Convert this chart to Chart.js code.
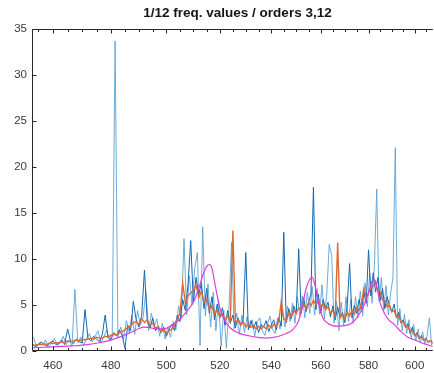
<!DOCTYPE html>
<html>
<head>
<meta charset="utf-8">
<script src="https://cdn.jsdelivr.net/npm/chart.js@4.4.0/dist/chart.umd.min.js"></script>
<style>
  html, body { margin: 0; padding: 0; background: #fff; }
  #wrap { position: relative; width: 434px; height: 373px; }
  #title {
    position: absolute; top: 5px; left: 32px; width: 411px;
    text-align: center; line-height: 15px;
    font: bold 13.5px "Liberation Sans", Arial, sans-serif; color: #141414;
  }
</style>
</head>
<body>
<div id="wrap">
  <div id="title">1/12 freq. values / orders 3,12</div>
  <canvas id="plot" width="434" height="373"></canvas>
</div>
<script>
// frequency bins (raw spectra are sampled half a bin apart)
const freqs = [
  453, 454, 455, 456, 457, 458, 459, 460, 461, 462,
  463, 464, 465, 466, 467, 468, 469, 470, 471, 472,
  473, 474, 475, 476, 477, 478, 479, 480, 481, 482,
  483, 484, 485, 486, 487, 488, 489, 490, 491, 492,
  493, 494, 495, 496, 497, 498, 499, 500, 501, 502,
  503, 504, 505, 506, 507, 508, 509, 510, 511, 512,
  513, 514, 515, 516, 517, 518, 519, 520, 521, 522,
  523, 524, 525, 526, 527, 528, 529, 530, 531, 532,
  533, 534, 535, 536, 537, 538, 539, 540, 541, 542,
  543, 544, 545, 546, 547, 548, 549, 550, 551, 552,
  553, 554, 555, 556, 557, 558, 559, 560, 561, 562,
  563, 564, 565, 566, 567, 568, 569, 570, 571, 572,
  573, 574, 575, 576, 577, 578, 579, 580, 581, 582,
  583, 584, 585, 586, 587, 588, 589, 590, 591, 592,
  593, 594, 595, 596, 597, 598, 599, 600, 601, 602,
  603, 604, 605, 606, 607, 608
];
const freqsHalf = [
  453.5, 454.5, 455.5, 456.5, 457.5, 458.5, 459.5, 460.5, 461.5, 462.5,
  463.5, 464.5, 465.5, 466.5, 467.5, 468.5, 469.5, 470.5, 471.5, 472.5,
  473.5, 474.5, 475.5, 476.5, 477.5, 478.5, 479.5, 480.5, 481.5, 482.5,
  483.5, 484.5, 485.5, 486.5, 487.5, 488.5, 489.5, 490.5, 491.5, 492.5,
  493.5, 494.5, 495.5, 496.5, 497.5, 498.5, 499.5, 500.5, 501.5, 502.5,
  503.5, 504.5, 505.5, 506.5, 507.5, 508.5, 509.5, 510.5, 511.5, 512.5,
  513.5, 514.5, 515.5, 516.5, 517.5, 518.5, 519.5, 520.5, 521.5, 522.5,
  523.5, 524.5, 525.5, 526.5, 527.5, 528.5, 529.5, 530.5, 531.5, 532.5,
  533.5, 534.5, 535.5, 536.5, 537.5, 538.5, 539.5, 540.5, 541.5, 542.5,
  543.5, 544.5, 545.5, 546.5, 547.5, 548.5, 549.5, 550.5, 551.5, 552.5,
  553.5, 554.5, 555.5, 556.5, 557.5, 558.5, 559.5, 560.5, 561.5, 562.5,
  563.5, 564.5, 565.5, 566.5, 567.5, 568.5, 569.5, 570.5, 571.5, 572.5,
  573.5, 574.5, 575.5, 576.5, 577.5, 578.5, 579.5, 580.5, 581.5, 582.5,
  583.5, 584.5, 585.5, 586.5, 587.5, 588.5, 589.5, 590.5, 591.5, 592.5,
  593.5, 594.5, 595.5, 596.5, 597.5, 598.5, 599.5, 600.5, 601.5, 602.5,
  603.5, 604.5, 605.5, 606.5, 607.5
];

// order 3 spectrum (light blue), on freqsHalf
const order3 = [
  1.5, 0.5, 0.9, 0.6, 1.2, 0.4, 0.8, 1.4, 0.6, 0.9,
  1.6, 0.7, 1.2, 0.5, 6.7, 0.9, 1.5, 0.6, 1.3, 1.9,
  1.0, 1.6, 2.2, 0.9, 1.5, 2.3, 1.2, 1.9, 33.7, 1.4,
  2.6, 1.3, 3.3, 2.0, 3.9, 1.8, 4.4, 2.8, 3.6, 6.5,
  2.2, 4.1, 2.6, 3.5, 1.6, 3.0, 1.3, 2.6, 1.5, 3.2,
  2.3, 4.9, 3.5, 12.2, 3.9, 8.2, 5.0, 9.0, 10.7, 0.6,
  13.5, 3.8, 7.3, 2.6, 6.4, 2.2, 5.6, 0.5, 4.4, 0.3,
  4.6, 11.8, 2.4, 4.1, 1.8, 3.9, 2.0, 3.7, 2.5, 3.4,
  1.6, 3.2, 3.6, 2.2, 1.7, 2.9, 3.8, 2.4, 1.9, 3.6,
  2.4, 4.2, 2.6, 4.9, 3.2, 5.2, 3.0, 5.9, 3.8, 6.0,
  3.6, 6.4, 4.1, 7.0, 3.9, 6.8, 4.0, 7.2, 3.5, 6.3,
  11.6, 10.4, 3.0, 5.4, 2.2, 5.3, 2.8, 5.9, 3.2, 5.6,
  3.0, 5.9, 3.6, 6.5, 3.8, 7.4, 4.8, 8.5, 5.2, 9.3,
  17.6, 5.4, 8.0, 4.4, 7.1, 3.9, 6.3, 8.0, 22.1, 2.8,
  4.6, 2.2, 4.0, 1.9, 3.4, 1.3, 2.9, 1.1, 2.4, 0.9,
  2.1, 0.8, 1.7, 3.6, 0.6
];

// order 12 spectrum (dark blue), on freqs
const order12 = [
  0.8, 0.5, 0.6, 1.0, 0.7, 0.5, 0.9, 1.1, 0.7, 0.8,
  1.2, 0.7, 2.4, 1.1, 0.8, 1.3, 1.0, 0.9, 4.5, 1.4,
  1.1, 1.6, 1.3, 1.0, 1.8, 3.9, 1.5, 1.2, 2.0, 1.7,
  2.3, 1.7, 0.3, 2.8, 2.2, 5.4, 3.4, 2.6, 3.9, 8.8,
  3.3, 2.5, 3.6, 2.2, 2.7, 2.0, 2.6, 1.6, 2.4, 2.9,
  2.2, 3.9, 3.2, 5.6, 4.4, 7.3, 12.0, 5.3, 8.0, 6.1,
  7.4, 4.6, 6.8, 4.1, 5.9, 3.4, 5.1, 3.6, 4.7, 2.8,
  4.4, 3.0, 3.9, 2.5, 3.6, 2.8, 3.4, 10.7, 2.3, 3.3,
  2.4, 3.2, 2.0, 2.9, 2.6, 3.3, 2.1, 2.8, 3.4, 2.3,
  3.6, 2.7, 12.9, 3.1, 4.6, 3.5, 4.9, 4.0, 11.1, 4.1,
  5.8, 4.3, 5.2, 6.3, 17.8, 4.5, 6.2, 4.1, 5.6, 4.6,
  5.3, 3.7, 4.9, 3.4, 4.8, 3.6, 4.2, 3.1, 5.0, 9.5,
  3.6, 5.0, 4.1, 5.6, 4.3, 6.5, 5.2, 11.0, 6.0, 8.5,
  6.4, 8.0, 5.5, 6.8, 4.6, 5.9, 4.9, 4.2, 5.1, 3.6,
  4.2, 3.1, 3.4, 2.5, 3.0, 1.9, 2.6, 1.6, 2.0, 1.3,
  1.7, 1.1, 1.4, 0.9, 1.2, 0.8
];

// 1/12 band average (orange), on freqs
const bandAvg = [
  0.7, 0.6, 0.7, 0.7, 0.8, 0.7, 0.9, 0.8, 0.9, 0.9,
  1.0, 0.9, 1.1, 1.0, 1.1, 1.2, 1.1, 1.3, 1.2, 1.3,
  1.4, 1.3, 1.5, 1.4, 1.4, 1.6, 1.5, 1.7, 1.8, 1.7,
  2.0, 2.1, 2.3, 2.6, 2.7, 3.1, 3.2, 2.9, 3.5, 3.1,
  3.4, 2.8, 3.0, 2.5, 2.6, 2.1, 2.3, 1.9, 2.2, 2.4,
  2.9, 3.5, 4.1, 7.4, 5.2, 6.0, 6.3, 6.6, 7.2, 5.8,
  6.5, 5.3, 5.6, 4.5, 4.9, 4.0, 4.5, 3.7, 4.0, 3.4,
  3.8, 3.2, 13.1, 3.0, 3.4, 2.8, 3.2, 2.6, 3.0, 2.6,
  2.8, 2.4, 2.7, 2.4, 2.7, 2.4, 2.8, 2.5, 2.9, 2.7,
  3.2, 5.4, 3.5, 3.3, 4.1, 3.7, 4.4, 4.1, 4.7, 4.4,
  5.1, 4.6, 5.3, 4.9, 5.5, 5.0, 5.4, 4.8, 5.2, 4.5,
  4.8, 4.1, 4.4, 3.8, 11.8, 3.6, 4.0, 3.5, 4.2, 3.8,
  4.4, 4.0, 4.7, 4.4, 5.2, 6.8, 5.8, 6.3, 6.8, 7.1,
  7.4, 6.4, 6.4, 5.5, 5.5, 4.8, 5.0, 4.3, 4.4, 3.7,
  3.8, 3.1, 3.2, 2.6, 2.7, 2.1, 2.2, 1.7, 1.8, 1.4,
  1.5, 1.2, 1.3, 1.0, 1.1, 0.9
];

// fitted resonance curve (magenta)
const fitFreqs = [
  453, 460, 466, 472, 476, 479, 482, 485, 488, 490,
  492, 494, 496, 499, 502, 504, 506, 508, 510, 512,
  513.5, 515, 516, 517, 518, 519, 520, 521.7, 524, 527,
  532, 538, 543, 546, 548.5, 551, 552.6, 554, 555.5, 556.5,
  557.5, 558.9, 560.7, 563, 567, 570, 572.6, 575, 577.8, 580,
  581, 582, 583, 584, 585, 587, 589, 591, 594, 597,
  600, 604, 608
];
const fitValues = [
  0.35, 0.45, 0.55, 0.7, 0.9, 1.1, 1.4, 1.75, 2.15, 2.45,
  2.6, 2.55, 2.4, 2.4, 2.8, 3.2, 3.8, 4.5, 5.3, 6.8,
  8.2, 9.2, 9.4, 9.0, 7.5, 6.0, 4.7, 3.4, 2.5, 2.0,
  1.6, 1.4, 1.6, 1.9, 2.3, 3.3, 5.0, 6.8, 7.8, 8.0,
  7.3, 5.5, 3.7, 3.0, 2.7, 2.75, 3.0, 3.6, 4.8, 6.3,
  7.2, 7.8, 7.6, 6.4, 5.2, 4.0, 3.3, 2.9, 2.1, 1.5,
  1.2, 0.8, 0.5
];

const xTicks = [455, 460, 465, 470, 475, 480, 485, 490, 495, 500, 505, 510, 515, 520,
  525, 530, 535, 540, 545, 550, 555, 560, 565, 570, 575, 580, 585, 590, 595, 600, 605];
const xLabels = [460, 480, 500, 520, 540, 560, 580, 600];

const pts = (xs, ys) => xs.map((x, i) => ({ x: x, y: ys[i] }));

const axisFont = { family: '"Liberation Sans", Arial, sans-serif', size: 11.5 };

// matlab-like box: left/top/bottom lines with inward ticks
const axesBox = {
  id: 'axesBox',
  afterDatasetsDraw(chart) {
    const { ctx, chartArea: a, scales } = chart;
    const x = scales.x, y = scales.y;
    const left = Math.round(a.left) + 0.5;
    const top = Math.round(a.top) + 0.5;
    const bottom = Math.round(a.bottom) - 0.5;
    ctx.save();
    ctx.strokeStyle = '#262626';
    ctx.lineWidth = 1;
    ctx.beginPath();
    ctx.moveTo(a.right, top);
    ctx.lineTo(left, top);
    ctx.lineTo(left, bottom);
    ctx.lineTo(a.right, bottom);
    x.ticks.forEach(t => {
      const px = Math.round(x.getPixelForValue(t.value)) + 0.5;
      const len = xLabels.includes(t.value) ? 4 : 2.5;
      ctx.moveTo(px, bottom);
      ctx.lineTo(px, bottom - len);
      ctx.moveTo(px, top);
      ctx.lineTo(px, top + len);
    });
    y.ticks.forEach(t => {
      const py = Math.round(y.getPixelForValue(t.value)) + 0.5;
      ctx.moveTo(left, py);
      ctx.lineTo(left + 4, py);
    });
    ctx.stroke();
    ctx.restore();
  }
};

new Chart(document.getElementById('plot'), {
  type: 'line',
  data: {
    datasets: [
      {
        label: 'fit',
        data: pts(fitFreqs, fitValues),
        borderColor: '#e43ae4',
        borderWidth: 1.2,
        cubicInterpolationMode: 'monotone',
        order: 0
      },
      {
        label: '1/12 average',
        data: pts(freqs, bandAvg),
        borderColor: '#dd6a36',
        borderWidth: 1.4,
        order: 1
      },
      {
        label: 'order 12',
        data: pts(freqs, order12),
        borderColor: '#1368b0',
        borderWidth: 1,
        order: 2
      },
      {
        label: 'order 3',
        data: pts(freqsHalf, order3),
        borderColor: '#5ea2d5',
        borderWidth: 0.9,
        order: 3
      }
    ]
  },
  options: {
    responsive: false,
    animation: false,
    events: [],
    elements: { point: { radius: 0 }, line: { tension: 0 } },
    layout: { padding: { top: 29, left: 0, right: 0, bottom: 0 } },
    plugins: { legend: { display: false }, tooltip: { enabled: false }, title: { display: false } },
    scales: {
      x: {
        type: 'logarithmic',
        min: 453,
        max: 608,
        grid: { display: false, drawTicks: false },
        border: { display: false },
        afterBuildTicks: (axis) => { axis.ticks = xTicks.map(v => ({ value: v })); },
        afterFit: (axis) => { axis.height = 22; },
        ticks: {
          autoSkip: false,
          maxRotation: 0,
          padding: 8,
          color: '#3a3a3a',
          font: axisFont,
          callback: (v) => xLabels.includes(v) ? String(v) : ''
        }
      },
      y: {
        min: 0,
        max: 35,
        grid: { display: false, drawTicks: false },
        border: { display: false },
        afterFit: (axis) => { axis.width = 32; },
        ticks: {
          stepSize: 5,
          padding: 5,
          color: '#3a3a3a',
          font: axisFont
        }
      }
    }
  },
  plugins: [axesBox]
});
</script>
</body>
</html>
